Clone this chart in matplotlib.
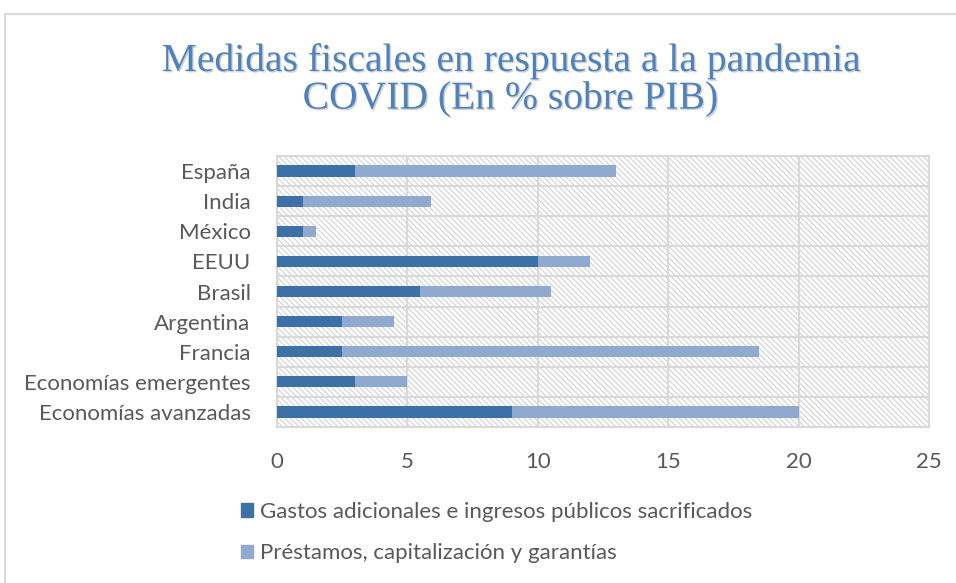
import matplotlib
matplotlib.use("Agg")
import matplotlib.pyplot as plt
import matplotlib.patheffects as pe
from matplotlib.patches import Patch, Rectangle
from matplotlib.lines import Line2D

# datos (en % del PIB)
paises = ["España", "India", "México", "EEUU", "Brasil", "Argentina", "Francia",
          "Economías emergentes", "Economías avanzadas"]
gastos = [3, 1, 1, 10, 5.5, 2.5, 2.5, 3, 9]
prestamos = [10, 4.9, 0.5, 2, 5, 2, 16, 2, 11]
serie_labels = ["Gastos adicionales e ingresos públicos sacrificados",
                "Préstamos, capitalización y garantías"]
xticks = [0, 5, 10, 15, 20, 25]

c_oscuro = "#3C70A6"
c_claro = "#90A9CF"
gris_txt = "#595959"
gris_linea = "#D9D9D9"

plt.rcParams["font.family"] = ["Lato", "DejaVu Sans"]
plt.rcParams["hatch.linewidth"] = 0.9

fig = plt.figure(figsize=(9.56, 5.83), dpi=100)
ax = fig.add_axes([277 / 956, 1 - 427 / 583, (929 - 277) / 956, (427 - 156) / 583])

# fondo rayado del area de trazado
ax.add_patch(Rectangle((0, 0), 1, 1, transform=ax.transAxes, facecolor="white",
                       edgecolor="#D6D6D6", lw=0, hatch="\\" * 6, zorder=0))

y = list(range(len(paises)))
ax.barh(y, gastos, height=0.37, color=c_oscuro, zorder=3)
ax.barh(y, prestamos, left=gastos, height=0.37, color=c_claro, zorder=3)

ax.set_xlim(0, 25)
ax.set_ylim(len(paises) - 0.5, -0.5)
ax.set_xticks(xticks)
ax.set_xticklabels([str(t) for t in xticks])
ax.set_yticks(y)
ax.set_yticklabels(paises)
ax.tick_params(axis="both", length=0, labelsize=16, colors=gris_txt)
ax.tick_params(axis="x", pad=18)
ax.tick_params(axis="y", pad=19)

# rejilla: verticales en los ticks, horizontales entre categorias
for t in xticks[1:-1]:
    ax.axvline(t, color=gris_linea, lw=1.5, zorder=2)
for k in range(1, len(paises)):
    ax.axhline(k - 0.5, color=gris_linea, lw=1.5, zorder=2)
for s in ax.spines.values():
    s.set_color(gris_linea)
    s.set_linewidth(1.5)

# titulo
fig.text(0.534, 1 - 80 / 583, "Medidas fiscales en respuesta a la pandemia\nCOVID (En % sobre PIB)",
         ha="center", va="center", fontsize=28.5, color="#4F81BD", linespacing=1.02,
         family=["Liberation Serif", "DejaVu Serif"],
         path_effects=[pe.SimplePatchShadow(offset=(1, -1), alpha=0.2), pe.Normal()])

# leyenda abajo, una serie por fila
handles = [Patch(color=c_oscuro), Patch(color=c_claro)]
fig.legend(handles, serie_labels, loc="upper left", bbox_to_anchor=(241 / 956, 1 - 502 / 583),
           frameon=False, fontsize=16, labelcolor=gris_txt, handlelength=0.55, handleheight=0.55,
           handletextpad=0.3, labelspacing=0.95, borderpad=0, borderaxespad=0)

# borde del area del grafico
fig.add_artist(Line2D([5 / 956, 1], [1 - 14 / 583] * 2, color=gris_linea, lw=1.5))
fig.add_artist(Line2D([5 / 956] * 2, [0, 1 - 14 / 583], color=gris_linea, lw=1.5))

fig.savefig("out.png", dpi=100)
